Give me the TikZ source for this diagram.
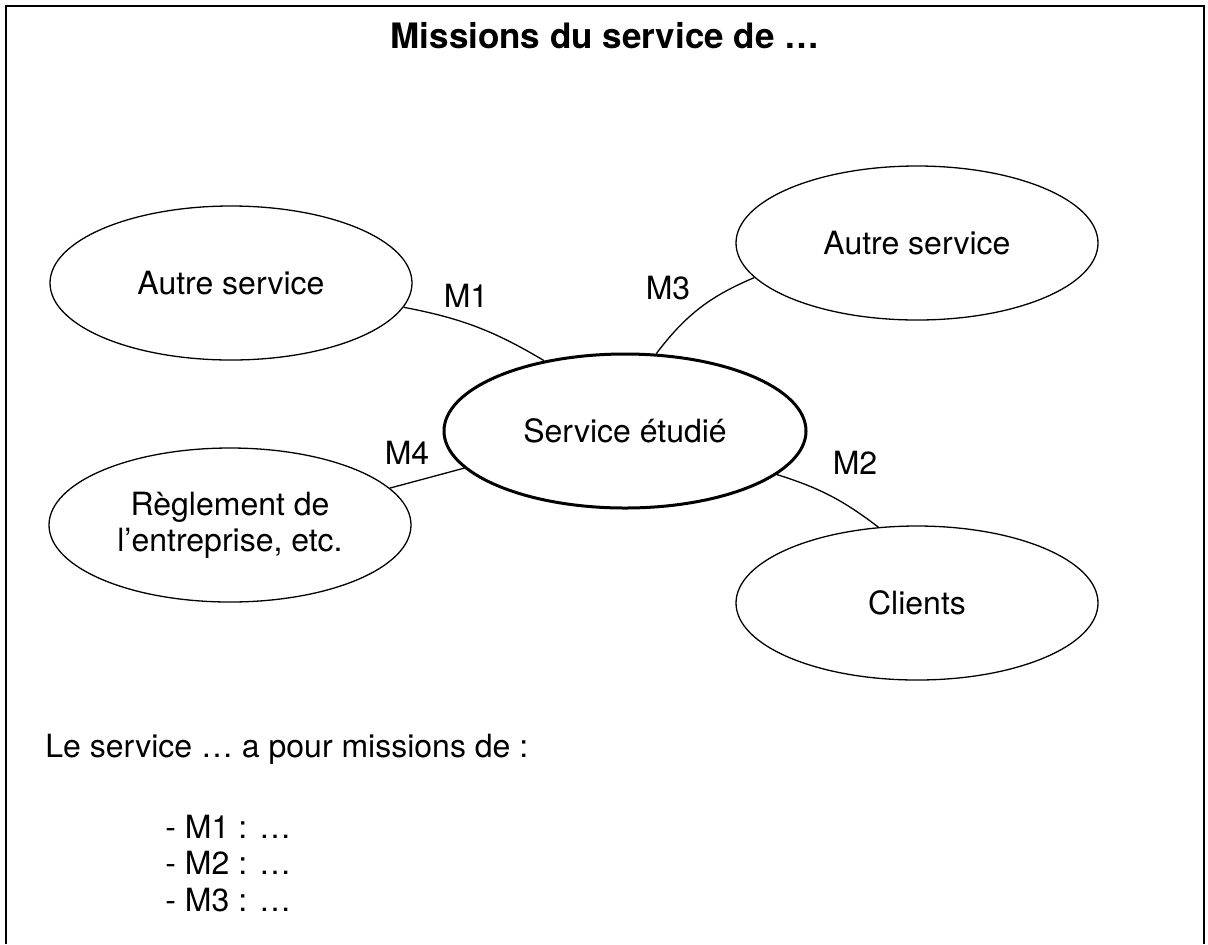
\documentclass[tikz,border=0pt]{standalone}
\usepackage{fontspec}
\setmainfont{TeX Gyre Heros}
\usetikzlibrary{shapes.geometric,positioning}

\begin{document}
\begin{tikzpicture}[x=0.5pt,y=-0.5pt,
        bulle/.style={draw,ellipse,line width=0.65pt,minimum width=181pt,minimum height=77pt,inner sep=0pt,align=center,font=\fontsize{16}{18}\selectfont},
        centre/.style={bulle,line width=1.5pt},
        lien/.style={line width=0.65pt},
        etiq/.style={inner sep=0pt,font=\fontsize{16}{18}\selectfont}]
        \useasboundingbox (0,0) rectangle (1208,944);
        \draw [line width=1pt] (6,944) -- (6,6) -- (1204,6) -- (1204,944);
        \node [inner sep=0pt,font=\bfseries\fontsize{17.5}{20}\selectfont] (titre) at (605,36) {Missions du service de …};
        % les services autour
        \node [centre] (etudie) at (625,431) {Service étudié};
        \node [bulle] (autreG) at (231,283) {Autre service};
        \node [bulle] (autreD) at (917,243) {Autre service};
        \node [bulle] (reglement) at (230,525) {Règlement de\\l’entreprise, etc.};
        \node [bulle] (clients) at (917,603) {Clients};
        % missions
        \draw [lien] (autreG.-8) to[bend left=10] (etudie.139);
        \draw [lien] (etudie.68) to[bend left=15] (autreD.-168);
        \draw [lien] (reglement.13) -- (etudie.193);
        \draw [lien] (etudie.-16) to[bend left=10] (clients.117);
        \node [etiq] (m1) at (466,296) {M1};
        \node [etiq] (m3) at (668,288) {M3};
        \node [etiq] (m4) at (407,453) {M4};
        \node [etiq] (m2) at (855,463) {M2};
        % texte du bas
        \node [etiq,anchor=base west] (phrase) at (45,757) {Le service … a pour missions de :};
        \node [etiq,anchor=base west] (liste1) at (165,838) {- M1 : …};
        \node [etiq,anchor=base west] (liste2) at (165,874.5) {- M2 : …};
        \node [etiq,anchor=base west] (liste3) at (165,911) {- M3 : …};
\end{tikzpicture}
\end{document}
